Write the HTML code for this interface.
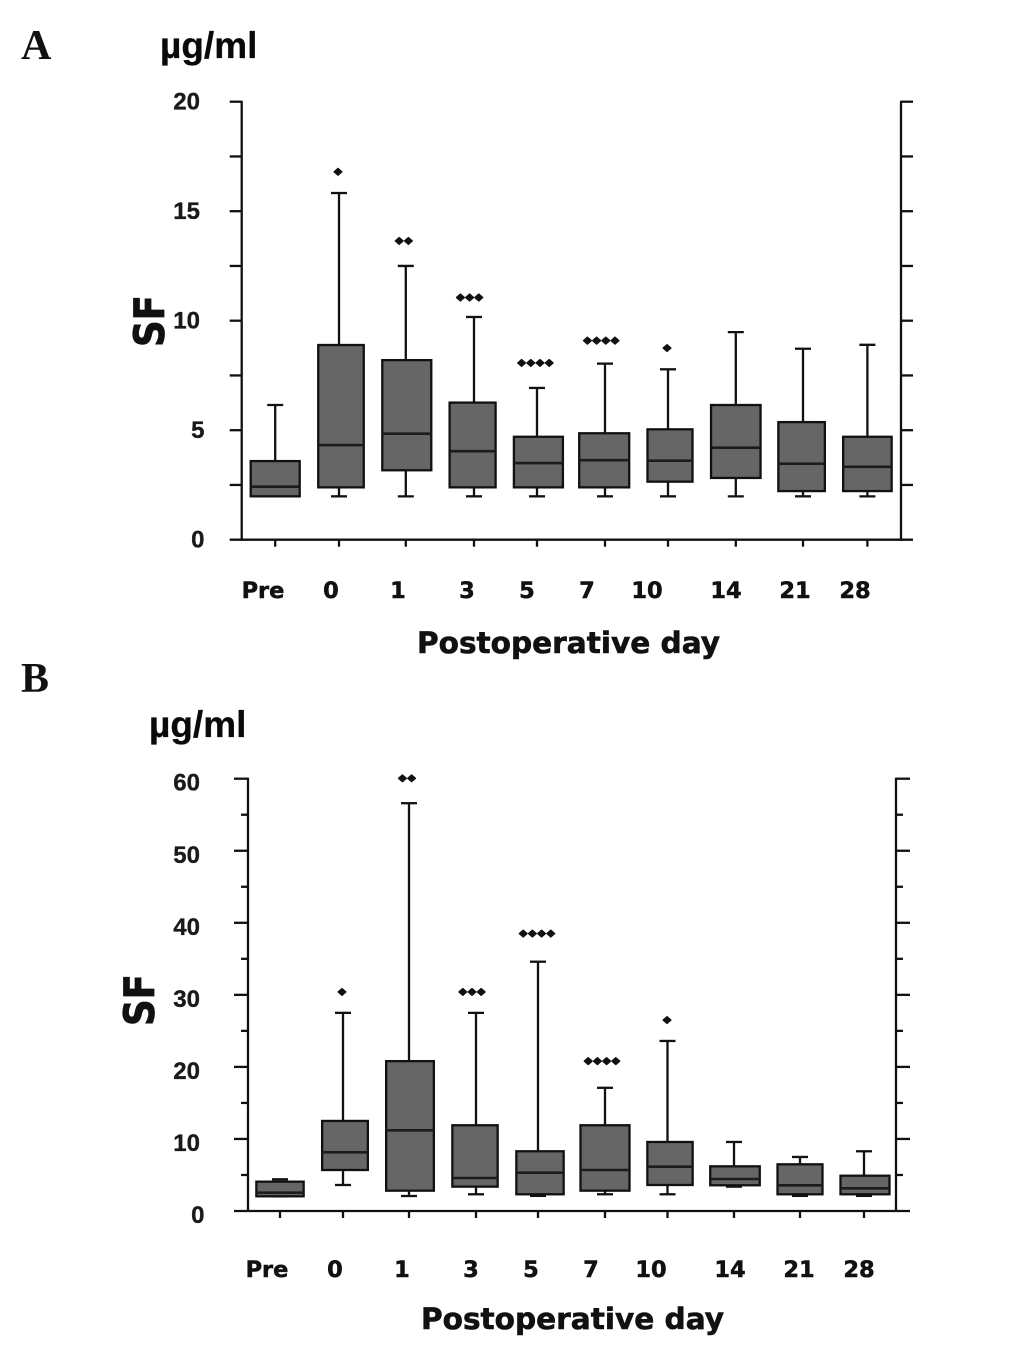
<!DOCTYPE html>
<html lang="en">
<head>
<meta charset="utf-8">
<title>Postoperative SF levels</title>
<style>
html,body{margin:0;padding:0;background:#fff;}
svg{display:block;}
.panel-letter{font-family:"Liberation Serif",serif;font-weight:700;font-size:42px;fill:#111;}
.unit{font-family:"Liberation Sans",sans-serif;font-weight:700;font-size:37px;fill:#0a0a0a;stroke:#0a0a0a;stroke-width:.3px;}
.y-title{font-family:"DejaVu Sans",sans-serif;font-weight:700;font-size:42px;fill:#111;stroke:#111;stroke-width:.8px;}
.x-title{font-family:"DejaVu Sans",sans-serif;font-weight:700;font-size:29px;fill:#111;stroke:#111;stroke-width:.6px;}
.x-label{font-family:"DejaVu Sans",sans-serif;font-weight:700;font-size:22.5px;fill:#111;stroke:#111;stroke-width:.5px;text-anchor:middle;}
.y-label{font-family:"Liberation Sans",sans-serif;font-weight:700;font-size:24px;fill:#1a1a1a;stroke:#1a1a1a;stroke-width:.35px;text-anchor:end;}
</style>
</head>
<body>
<svg id="figure" xmlns="http://www.w3.org/2000/svg" width="1033" height="1347" viewBox="0 0 1033 1347">
  <rect width="1033" height="1347" fill="#fff"/>

  <text class="panel-letter" x="21" y="59">A</text>
  <text class="unit" x="160" y="58">µg/ml</text>
  <text class="y-title" transform="translate(164,347) rotate(-90)" textLength="52" lengthAdjust="spacingAndGlyphs">SF</text>
  <text class="x-title" x="417" y="653" textLength="303" lengthAdjust="spacingAndGlyphs">Postoperative day</text>
  <g id="panel-a"></g>

  <text class="panel-letter" x="21" y="692">B</text>
  <text class="unit" x="149" y="737">µg/ml</text>
  <text class="y-title" transform="translate(154,1026) rotate(-90)" textLength="52" lengthAdjust="spacingAndGlyphs">SF</text>
  <text class="x-title" x="421" y="1329" textLength="303" lengthAdjust="spacingAndGlyphs">Postoperative day</text>
  <g id="panel-b"></g>
</svg>

<script>
// Shared categories
const categories = ['Pre', '0', '1', '3', '5', '7', '10', '14', '21', '28'];

// Panel A values (µg/ml)
const aHigh = [6.15, 15.83, 12.5, 10.17, 6.93, 8.04, 7.78, 9.48, 8.72, 8.9];
const aQ3 = [3.59, 8.89, 8.2, 6.26, 4.7, 4.86, 5.04, 6.15, 5.37, 4.7];
const aMedian = [2.42, 4.32, 4.84, 4.04, 3.5, 3.63, 3.61, 4.2, 3.47, 3.33];
const aQ1 = [1.98, 2.39, 3.17, 2.39, 2.39, 2.39, 2.65, 2.82, 2.22, 2.22];
const aLow = [1.98, 1.98, 1.98, 1.98, 1.98, 1.98, 1.98, 1.98, 1.98, 1.98];
const aSigCount = [0, 1, 2, 3, 4, 4, 1, 0, 0, 0];
const aSigLevel = [0, 16.8, 13.64, 11.06, 8.07, 9.09, 8.75, 0, 0, 0];
const aMajorTicks = [0, 5, 10, 15, 20];
const aMinorTicks = [2.5, 7.5, 12.5, 17.5];

// Panel B values (µg/ml)
const bHigh = [4.4, 27.5, 56.6, 27.5, 34.6, 17.1, 23.6, 9.58, 7.5, 8.29];
const bQ3 = [4.07, 12.5, 20.8, 11.9, 8.29, 11.9, 9.58, 6.2, 6.48, 4.9];
const bMedian = [2.54, 8.15, 11.2, 4.58, 5.32, 5.69, 6.15, 4.44, 3.57, 3.15];
const bQ1 = [2.04, 5.69, 2.82, 3.38, 2.32, 2.82, 3.61, 3.57, 2.32, 2.32];
const bLow = [2.04, 3.61, 2.08, 2.32, 2.1, 2.32, 2.32, 3.38, 2.1, 2.1];
const bSigCount = [0, 1, 2, 3, 4, 4, 1, 0, 0, 0];
const bSigLevel = [0, 30.4, 60.05, 30.4, 38.5, 20.8, 26.5, 0, 0, 0];
const bMajorTicks = [0, 10, 20, 30, 40, 50, 60];
const bMinorTicks = [5, 15, 25, 35, 45, 55];

// Layout only: the hand-assembled figure is not perfectly regular
const xLabelShift = [0, 68, 135, 204, 264, 324, 384, 463, 532, 592];
const aLayoutWhiskerShift = [0, -2, -1, 1.4, -1.4, 0.8, -2, 0, 1.4, 0];
const bLayoutWhiskerShift = [0, -2, -1, 1, -2, 0, -2.5, -1, 0, -1];
const aLayoutBoxWidth = [49, 45.5, 49, 46, 49, 50, 45, 49.5, 46.5, 48.5];
const bLayoutBoxWidth = [47.3, 45.7, 47.7, 45.3, 47.3, 49, 45.3, 49.5, 45, 49];

const SVG_NS = 'http://www.w3.org/2000/svg';
const INK = '#111';
const BOX_FILL = '#666';
const LINE_W = 2.3;

function addLine(parent, x1, y1, x2, y2, width, colour) {
  const line = document.createElementNS(SVG_NS, 'line');
  line.setAttribute('x1', x1);
  line.setAttribute('y1', y1);
  line.setAttribute('x2', x2);
  line.setAttribute('y2', y2);
  line.setAttribute('stroke', colour || INK);
  line.setAttribute('stroke-width', width || LINE_W);
  parent.appendChild(line);
  return line;
}

function addGroup(parent) {
  const g = document.createElementNS(SVG_NS, 'g');
  parent.appendChild(g);
  return g;
}

function addText(parent, cls, x, y, content) {
  const t = document.createElementNS(SVG_NS, 'text');
  t.setAttribute('class', cls);
  t.setAttribute('x', x);
  t.setAttribute('y', y);
  t.textContent = content;
  parent.appendChild(t);
  return t;
}

function drawPanel(cfg) {
  const root = document.getElementById(cfg.id);
  const yScale = function (v) {
    return cfg.y0 - (v / cfg.yMax) * (cfg.y0 - cfg.yTop);
  };
  const xScale = function (i) {
    return cfg.x0 + i * cfg.step;
  };

  // Axes
  const axisLeft = addLine(root, cfg.axisL, cfg.yTop - 1, cfg.axisL, cfg.y0 + 1);
  
  
  const axisRight = addLine(root, cfg.axisR, cfg.yTop - 1, cfg.axisR, cfg.y0 + 1);
  
  
  const axisBottom = addLine(root, cfg.axisL - cfg.majorLen, cfg.y0, cfg.axisR + cfg.majorLen, cfg.y0);
  
  

  // Y ticks
  cfg.major.forEach(function (v) {
    const y = yScale(v);
    if (v !== 0) {
      const tl = addLine(root, cfg.axisL - cfg.majorLen, y, cfg.axisL, y);
      
      
      const tr = addLine(root, cfg.axisR, y, cfg.axisR + cfg.majorLen, y);
      
      
    }
    const label = String(v);
    const lx = label.length > 1 ? cfg.labelRight : cfg.labelRight + 4.5;
    const yl = addText(root, 'y-label', lx, y + cfg.labelDy, label);
    
    
  });
  cfg.minor.forEach(function (v) {
    const y = yScale(v);
    const ml = addLine(root, cfg.axisL - cfg.minorLen, y, cfg.axisL, y);
    
    
    const mr = addLine(root, cfg.axisR, y, cfg.axisR + cfg.minorLen, y);
    
    
  });

  // Boxes
  categories.forEach(function (cat, i) {
    const cx = xScale(i);
    const wx = cx + cfg.whiskerShift[i];
    const bw = cfg.boxWidth[i];
    const g = addGroup(root);
    
    

    const tick = addLine(root, wx, cfg.y0, wx, cfg.y0 + 7);
    
    

    const whisker = addLine(g, wx, yScale(cfg.high[i]), wx, yScale(cfg.low[i]));
    
    
    const capTop = addLine(g, wx - 8, yScale(cfg.high[i]), wx + 8, yScale(cfg.high[i]));
    
    
    const capLow = addLine(g, wx - 8, yScale(cfg.low[i]), wx + 8, yScale(cfg.low[i]));
    
    

    const box = document.createElementNS(SVG_NS, 'rect');
    box.setAttribute('x', cx - bw / 2);
    box.setAttribute('y', yScale(cfg.q3[i]));
    box.setAttribute('width', bw);
    box.setAttribute('height', yScale(cfg.q1[i]) - yScale(cfg.q3[i]));
    box.setAttribute('fill', BOX_FILL);
    box.setAttribute('stroke', INK);
    box.setAttribute('stroke-width', LINE_W);
    
    
    g.appendChild(box);

    const median = addLine(g, cx - bw / 2, yScale(cfg.median[i]), cx + bw / 2, yScale(cfg.median[i]), 2.6, '#1c1c1c');
    
    

    // Significance markers
    for (let k = 0; k < cfg.sigCount[i]; k++) {
      const mx = cx - 3 + (k - (cfg.sigCount[i] - 1) / 2) * 9.2;
      const my = yScale(cfg.sigLevel[i]);
      const mark = document.createElementNS(SVG_NS, 'polygon');
      mark.setAttribute('points', (mx - 4) + ',' + my + ' ' + mx + ',' + (my - 3.5) + ' ' + (mx + 4) + ',' + my + ' ' + mx + ',' + (my + 3.5));
      mark.setAttribute('fill', INK);
      mark.setAttribute('stroke', INK);
      mark.setAttribute('stroke-width', 1.2);
      mark.setAttribute('stroke-linejoin', 'round');
      
      
      g.appendChild(mark);
    }

    const xl = addText(root, 'x-label', cfg.labelStart + xLabelShift[i], cfg.labelY, cat);
    
    
  });
}

drawPanel({
  id: 'panel-a', yMax: 20, y0: 539.7, yTop: 101.7,
  axisL: 241.7, axisR: 901, majorLen: 12, minorLen: 12,
  x0: 275.2, step: 65.8, boxWidth: aLayoutBoxWidth, whiskerShift: aLayoutWhiskerShift,
  labelRight: 200, labelDy: 8, labelStart: 263, labelY: 598,
  major: aMajorTicks, minor: aMinorTicks,
  high: aHigh, q3: aQ3, median: aMedian, q1: aQ1, low: aLow,
  sigCount: aSigCount, sigLevel: aSigLevel
});

drawPanel({
  id: 'panel-b', yMax: 60, y0: 1211, yTop: 778.7,
  axisL: 248, axisR: 896, majorLen: 14, minorLen: 7,
  x0: 280, step: 65, boxWidth: bLayoutBoxWidth, whiskerShift: bLayoutWhiskerShift,
  labelRight: 200, labelDy: 12, labelStart: 267, labelY: 1277,
  major: bMajorTicks, minor: bMinorTicks,
  high: bHigh, q3: bQ3, median: bMedian, q1: bQ1, low: bLow,
  sigCount: bSigCount, sigLevel: bSigLevel
});
</script>
</body>
</html>
